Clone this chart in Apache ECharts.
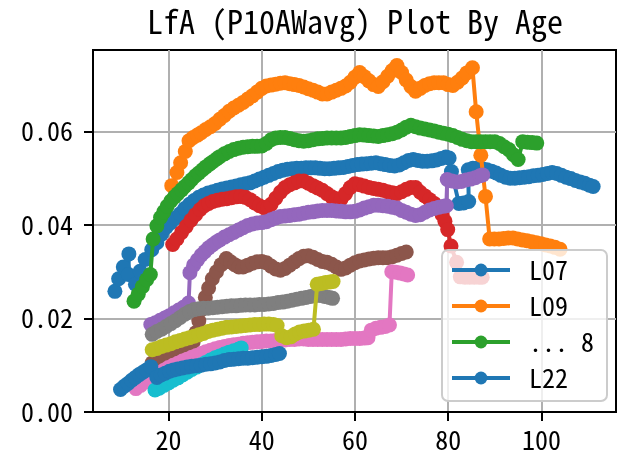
<!DOCTYPE html>
<html>
<head>
<meta charset="utf-8">
<script src="https://cdn.jsdelivr.net/npm/echarts@6/dist/echarts.min.js"></script>
<style>
  html, body { margin: 0; padding: 0; background: #fff; }
  #chart { width: 625px; height: 456px; }
</style>
</head>
<body>
<div id="chart"></div>
<script>
// LfA (P10AWavg) by age, one line per station
const seriesNames = ['L07', 'L09', 'L10', 'L11', 'L12', 'L13', 'L14', 'L15', 'L16', 'L17', 'L22'];
const legendNames = ['L07', 'L09', 'L10', 'L22'];
const legendLabels = { L10: '... 8' };
const xTicks = [20, 40, 60, 80, 100];
const yTicks = [0, 0.02, 0.04, 0.06];

const L07 = [[8.5,0.0258],[9.3,0.0285],[10.3,0.0310],[11.5,0.0338],[11.4,0.0294],[12.9,0.0273],[13.9,0.0301],[15.0,0.0326],[16.4,0.0347],[17.5,0.0362],[18.5,0.0380],[19.5,0.0395],[20.5,0.0405],[21.5,0.0415],[22.5,0.0424],[23.5,0.0435],[24.5,0.0444],[25.5,0.0452],[26.5,0.0459],[27.5,0.0464],[28.5,0.0468],[29.5,0.0471],[30.5,0.0474],[31.5,0.0477],[32.5,0.0479],[33.5,0.0481],[34.5,0.0483],[35.5,0.0486],[36.5,0.0488],[37.5,0.0490],[38.5,0.0494],[39.5,0.0498],[40.5,0.0502],[41.5,0.0506],[42.5,0.0510],[43.5,0.0514],[44.5,0.0517],[45.5,0.0519],[46.5,0.0520],[47.5,0.0521],[48.5,0.0521],[49.5,0.0522],[50.5,0.0522],[51.5,0.0522],[52.5,0.0521],[53.5,0.0520],[54.5,0.0520],[55.5,0.0521],[56.5,0.0522],[57.5,0.0523],[58.5,0.0525],[59.5,0.0527],[60.5,0.0529],[61.5,0.0530],[62.5,0.0531],[63.5,0.0532],[64.5,0.0533],[65.5,0.0531],[66.5,0.0529],[67.5,0.0527],[68.5,0.0526],[69.5,0.0528],[70.5,0.0533],[71.5,0.0538],[72.5,0.0540],[73.5,0.0538],[74.5,0.0536],[75.5,0.0536],[76.5,0.0537],[77.5,0.0539],[78.5,0.0542],[79.5,0.0545],[80.2,0.0543],[80.7,0.0514],[82.3,0.0446],[83.3,0.0447],[84.4,0.0450],[84.3,0.0518],[85.3,0.0521],[86.3,0.0521],[87.3,0.0520],[88.3,0.0518],[89.3,0.0515],[90.3,0.0511],[91.3,0.0506],[92.3,0.0502],[93.3,0.0500],[94.3,0.0500],[95.3,0.0501],[96.3,0.0502],[97.3,0.0503],[98.3,0.0505],[99.3,0.0506],[100.3,0.0508],[101.3,0.0510],[102.3,0.0512],[103.3,0.0510],[104.3,0.0506],[105.3,0.0502],[106.3,0.0499],[107.3,0.0495],[108.3,0.0492],[109.3,0.0489],[110.3,0.0485],[111.1,0.0482]];

const L09 = [[20.7,0.0484],[21.8,0.0512],[22.6,0.0533],[23.6,0.0557],[24.4,0.0580],[25.3,0.0587],[26.2,0.0592],[27,0.0597],[28,0.0604],[29,0.0610],[30,0.0617],[31,0.0626],[32,0.0634],[33,0.0643],[34,0.0650],[35,0.0656],[36,0.0662],[37,0.0669],[38,0.0676],[39,0.0684],[40,0.0692],[41,0.0697],[42,0.0699],[43,0.0701],[44,0.0703],[45,0.0704],[46,0.0702],[47,0.0700],[48,0.0698],[49,0.0695],[50,0.0691],[51,0.0688],[52,0.0684],[53,0.0680],[54,0.0680],[55,0.0684],[56,0.0688],[57,0.0692],[58,0.0697],[59,0.0705],[60,0.0716],[61,0.0726],[62,0.0717],[63,0.0708],[64,0.0700],[65,0.0696],[66,0.0706],[67,0.0718],[68,0.0730],[69,0.0741],[70,0.0726],[71,0.0710],[72,0.0696],[73,0.0686],[74,0.0692],[75,0.0698],[76,0.0702],[77,0.0704],[78,0.0704],[79,0.0704],[80,0.0700],[81,0.0698],[82,0.0705],[83,0.0714],[84,0.0725],[85.2,0.0736],[86.0,0.0642],[87.0,0.0549],[88.0,0.0461],[88.9,0.0370],[89.9,0.0370],[90.9,0.0370],[91.9,0.0371],[92.9,0.0372],[93.9,0.0372],[94.9,0.0370],[95.9,0.0368],[96.9,0.0366],[97.9,0.0364],[98.9,0.0362],[99.9,0.0360],[100.9,0.0357],[101.9,0.0355],[102.9,0.0352],[104,0.0348]];

const L10 = [[12.6,0.0237],[13.5,0.0252],[14.4,0.0268],[15.3,0.0283],[16.1,0.0294],[16.7,0.0370],[17.5,0.0398],[18.3,0.0416],[19,0.0428],[19.7,0.0440],[20.5,0.0451],[21.3,0.0460],[22,0.0467],[22.8,0.0475],[23.5,0.0482],[24.3,0.0490],[25,0.0497],[25.8,0.0505],[26.5,0.0511],[27.3,0.0518],[28,0.0524],[28.8,0.0530],[29.5,0.0535],[30.3,0.0541],[31,0.0546],[32,0.0552],[33,0.0557],[34,0.0561],[35,0.0564],[36,0.0566],[37,0.0567],[38,0.0568],[39,0.0568],[40,0.0569],[41,0.0574],[42,0.0582],[43,0.0586],[44,0.0587],[45,0.0587],[46,0.0585],[47,0.0582],[48,0.0580],[49,0.0579],[50,0.0580],[51,0.0582],[52,0.0584],[53,0.0585],[54,0.0586],[55,0.0586],[56,0.0586],[57,0.0586],[58,0.0587],[59,0.0589],[60,0.0591],[61,0.0593],[62,0.0592],[63,0.0591],[64,0.0590],[65,0.0589],[66,0.0591],[67,0.0593],[68,0.0595],[69,0.0598],[70,0.0603],[71,0.0609],[72,0.0613],[73,0.0610],[74,0.0607],[75,0.0605],[76,0.0603],[77,0.0601],[78,0.0598],[79,0.0596],[80,0.0594],[81,0.0591],[82,0.0587],[83,0.0583],[84,0.0580],[85,0.0578],[86,0.0578],[87,0.0578],[88,0.0578],[89,0.0578],[90,0.0578],[91,0.0574],[92,0.0567],[93,0.0561],[94,0.0550],[95,0.0540],[96,0.0578],[97,0.0577],[98,0.0576],[99,0.0575]];

const L11 = [[20.9,0.0358],[21.8,0.0370],[22.8,0.0384],[23.8,0.0397],[24.8,0.0410],[25.8,0.0422],[26.8,0.0433],[27.7,0.0441],[28.6,0.0446],[29.5,0.0450],[30.5,0.0453],[31.5,0.0455],[32.5,0.0456],[33.5,0.0458],[34.5,0.0460],[35.5,0.0461],[36.5,0.0459],[37.5,0.0454],[38.5,0.0447],[39.5,0.0441],[40.5,0.0437],[41.3,0.0437],[42,0.0444],[43,0.0457],[44,0.0470],[45,0.0480],[46,0.0486],[47,0.0490],[48,0.0494],[49,0.0494],[50,0.0489],[51,0.0484],[52,0.0479],[53,0.0474],[54,0.0467],[55,0.0460],[56,0.0456],[57,0.0455],[58,0.0467],[59,0.0480],[60,0.0488],[61,0.0486],[62,0.0483],[63,0.0480],[64,0.0478],[65,0.0476],[66,0.0474],[67,0.0471],[68,0.0469],[69,0.0467],[70,0.0471],[71,0.0476],[72,0.0480],[73,0.0480],[74,0.0470],[75,0.0462],[76,0.0454],[77,0.0446],[78,0.0435],[78.7,0.0422],[79.3,0.0408],[79.9,0.0390],[80.6,0.0355],[81.8,0.0320],[82.6,0.0289],[83.6,0.0288],[84.6,0.0288],[85.6,0.0288],[86.6,0.0288],[87.3,0.0288]];

const L12 = [[16.2,0.0187],[17.2,0.0191],[18.2,0.0196],[19.2,0.0201],[20.2,0.0206],[21.2,0.0212],[22.2,0.0218],[23.2,0.0224],[24.3,0.0233],[24.6,0.0298],[25.4,0.0314],[26.2,0.0325],[27,0.0335],[27.8,0.0343],[28.6,0.0351],[29.4,0.0357],[30.2,0.0363],[31,0.0368],[32,0.0374],[33,0.0379],[34,0.0384],[35,0.0389],[36,0.0394],[37,0.0399],[38,0.0402],[39,0.0404],[40,0.0405],[41,0.0407],[42,0.0411],[43,0.0415],[44,0.0418],[45,0.0419],[46,0.0420],[47,0.0422],[48,0.0423],[49,0.0425],[50,0.0427],[51,0.0428],[52,0.0430],[53,0.0431],[54,0.0431],[55,0.0431],[56,0.0430],[57,0.0429],[58,0.0428],[59,0.0428],[60,0.0429],[61,0.0432],[62,0.0436],[63,0.0439],[64,0.0442],[65,0.0442],[66,0.0441],[67,0.0440],[68,0.0438],[69,0.0436],[70,0.0431],[71,0.0427],[72,0.0423],[73,0.0420],[74,0.0422],[75,0.0427],[76,0.0432],[77,0.0435],[78,0.0438],[79,0.0440],[79.6,0.0441],[79.8,0.0497],[80.8,0.0494],[81.8,0.0492],[82.8,0.0493],[83.8,0.0496],[84.8,0.0498],[85.8,0.0501],[86.8,0.0505],[87.4,0.0507]];

const L13 = [[16.5,0.0105],[17.5,0.0108],[18.5,0.0112],[19.5,0.0116],[20.5,0.0120],[21.5,0.0124],[22.5,0.0128],[23.5,0.0132],[24.4,0.0137],[25.3,0.0150],[25.9,0.0170],[26.5,0.0195],[27.2,0.0220],[27.9,0.0245],[28.6,0.0265],[29.4,0.0285],[30.3,0.0300],[31.3,0.0315],[32.4,0.0328],[33.3,0.0321],[34.2,0.0315],[35.1,0.0310],[36,0.0310],[37,0.0314],[38,0.0318],[39,0.0321],[40,0.0322],[41,0.0319],[42,0.0312],[43,0.0306],[44,0.0303],[45,0.0307],[46,0.0314],[47,0.0321],[48,0.0328],[49,0.0333],[50,0.0334],[51,0.0331],[52,0.0326],[53,0.0322],[54,0.0320],[55,0.0316],[56,0.0310],[57,0.0305],[58,0.0308],[59,0.0314],[60,0.0319],[61,0.0323],[62,0.0325],[63,0.0327],[64,0.0329],[65,0.0330],[66,0.0330],[67,0.0330],[68,0.0332],[69,0.0335],[70,0.0339],[71,0.0342]];

const L14 = [[13.0,0.0050],[14,0.0057],[15,0.0064],[16,0.0070],[17,0.0077],[18,0.0083],[19,0.0089],[20,0.0095],[21,0.0100],[22,0.0104],[23,0.0109],[24,0.0113],[25,0.0117],[26,0.0121],[27,0.0125],[28,0.0129],[29,0.0132],[30,0.0135],[31,0.0138],[32,0.0140],[33,0.0142],[34,0.0144],[35,0.0145],[36,0.0147],[37,0.0148],[38,0.0149],[39,0.0150],[40,0.0151],[41,0.0152],[42,0.0152],[43,0.0153],[44,0.0154],[45,0.0154],[46,0.0155],[47,0.0155],[48,0.0156],[49,0.0156],[50,0.0155],[51,0.0155],[52,0.0155],[53,0.0155],[54,0.0155],[55,0.0155],[56,0.0155],[57,0.0155],[58,0.0156],[59,0.0157],[60,0.0157],[61,0.0157],[62,0.0158],[62.8,0.0159],[63.5,0.0175],[64.5,0.0179],[65.5,0.0181],[66.5,0.0183],[67.4,0.0186],[67.9,0.0300],[68.8,0.0299],[69.7,0.0297],[70.5,0.0295],[71.3,0.0293]];

const L15 = [[16.5,0.0166],[17.5,0.0172],[18.5,0.0177],[19.5,0.0183],[20.5,0.0189],[21.5,0.0195],[22.5,0.0202],[23.5,0.0209],[24.5,0.0215],[25.5,0.0219],[26.5,0.0221],[27.5,0.0222],[28.5,0.0222],[29.5,0.0223],[30.5,0.0224],[31.5,0.0225],[32.5,0.0226],[33.5,0.0227],[34.5,0.0227],[35.5,0.0228],[36.5,0.0229],[37.5,0.0229],[38.5,0.0229],[39.5,0.0230],[40.5,0.0230],[41.5,0.0231],[42.5,0.0232],[43.5,0.0234],[44.5,0.0235],[45.5,0.0237],[46.5,0.0239],[47.5,0.0241],[48.5,0.0243],[49.5,0.0245],[50.5,0.0247],[51.5,0.0249],[52.5,0.0249],[53.5,0.0247],[54.5,0.0245],[55.2,0.0243]];

const L16 = [[16.5,0.0133],[17.5,0.0136],[18.5,0.0140],[19.5,0.0143],[20.5,0.0146],[21.5,0.0150],[22.5,0.0153],[23.5,0.0156],[24.5,0.0159],[25.5,0.0162],[26.5,0.0165],[27.5,0.0168],[28.5,0.0172],[29.5,0.0175],[30.5,0.0177],[31.5,0.0179],[32.5,0.0181],[33.5,0.0182],[34.5,0.0183],[35.5,0.0184],[36.5,0.0185],[37.5,0.0186],[38.5,0.0187],[39.5,0.0187],[40.5,0.0188],[41.5,0.0188],[42.5,0.0187],[43.3,0.0185],[44.3,0.0163],[45.3,0.0159],[46.3,0.0161],[47.2,0.0167],[48.1,0.0171],[49.1,0.0173],[50.1,0.0175],[51.1,0.0177],[51.9,0.0273],[52.8,0.0275],[53.7,0.0277],[54.6,0.0278],[55.3,0.0279]];

const L17 = [[17.1,0.0047],[18,0.0051],[19,0.0057],[20,0.0062],[21,0.0068],[22,0.0073],[23,0.0079],[24,0.0085],[25,0.0091],[26,0.0096],[27,0.0101],[28,0.0106],[29,0.0111],[30,0.0116],[31,0.0120],[32,0.0124],[33,0.0128],[34,0.0131],[35,0.0134],[35.6,0.0137]];

const L22 = [[9.7,0.0048],[10.5,0.0055],[11.3,0.0061],[12.1,0.0068],[12.9,0.0074],[13.7,0.0080],[14.5,0.0085],[15.3,0.0090],[16.2,0.0097],[17.5,0.0074],[18.4,0.0079],[19.3,0.0083],[20.2,0.0087],[21.1,0.0090],[22,0.0092],[23,0.0094],[24,0.0096],[25,0.0098],[26,0.0099],[27,0.0100],[28,0.0102],[29,0.0103],[30,0.0105],[31,0.0107],[32,0.0110],[33,0.0112],[34,0.0113],[35,0.0114],[36,0.0115],[37,0.0115],[38,0.0116],[39,0.0117],[40,0.0118],[41,0.0119],[42,0.0121],[43,0.0123],[43.8,0.0125]];

const seriesData = [L07, L09, L10, L11, L12, L13, L14, L15, L16, L17, L22];
const palette = ['#1f77b4', '#ff7f0e', '#2ca02c', '#d62728', '#9467bd', '#8c564b', '#e377c2', '#7f7f7f', '#bcbd22', '#17becf', '#1f77b4'];

const FONT = '"Noto Sans Mono CJK JP", "Noto Sans Mono CJK SC", "DejaVu Sans Mono", monospace';

const chart = echarts.init(document.getElementById('chart'), null, { renderer: 'canvas' });

chart.setOption({
  animation: false,
  backgroundColor: '#ffffff',
  title: {
    text: 'LfA (P10AWavg) Plot By Age',
    left: 355,
    top: 6,
    padding: 0,
    textAlign: 'center',
    textStyle: { fontFamily: FONT, fontSize: 32, fontWeight: 'normal', color: '#000' }
  },
  grid: {
    left: 93, top: 50, right: 9, bottom: 44,
    show: true, borderColor: '#000', borderWidth: 2, backgroundColor: 'transparent'
  },
  legend: {
    orient: 'vertical',
    left: 442, top: 250,
    data: legendNames,
    formatter: name => legendLabels[name] || name,
    itemWidth: 58, itemHeight: 16, itemGap: 10,
    padding: [7, 13, 10, 8],
    backgroundColor: 'rgba(255,255,255,0.8)',
    borderColor: '#cccccc', borderWidth: 2, borderRadius: 6,
    lineStyle: { width: 4 },
    textStyle: { fontFamily: FONT, fontSize: 26, color: '#000', lineHeight: 26, padding: [0, 0, 0, 14] },
    selectedMode: false,
    z: 10
  },
  xAxis: {
    type: 'value', min: 3.8, max: 116,
    axisLine: { show: true, onZero: false, lineStyle: { color: '#000', width: 2 } },
    axisTick: { show: true, length: 9, lineStyle: { color: '#000', width: 2 }, customValues: xTicks },
    axisLabel: { customValues: xTicks, fontFamily: FONT, fontSize: 26, color: '#000', margin: 15, formatter: v => String(Math.round(v)) },
    splitLine: { show: true, lineStyle: { color: '#b0b0b0', width: 2 } }
  },
  yAxis: {
    type: 'value', min: 0, max: 0.0774,
    axisLine: { show: true, onZero: false, lineStyle: { color: '#000', width: 2 } },
    axisTick: { show: true, length: 9, lineStyle: { color: '#000', width: 2 }, customValues: yTicks },
    axisLabel: { customValues: yTicks, fontFamily: FONT, fontSize: 26, color: '#000', margin: 20, formatter: v => v.toFixed(2) },
    splitLine: { show: true, lineStyle: { color: '#b0b0b0', width: 2 } }
  },
  series: seriesData.map((d, i) => ({
    name: seriesNames[i],
    type: 'line',
    data: d,
    z: 2 + i * 0.1,
    symbol: 'circle',
    symbolSize: 15,
    showSymbol: true,
    showAllSymbol: true,
    color: palette[i],
    itemStyle: { color: palette[i] },
    lineStyle: { color: palette[i], width: 4 },
    emphasis: { disabled: true },
    silent: true
  }))
});
</script>
</body>
</html>
